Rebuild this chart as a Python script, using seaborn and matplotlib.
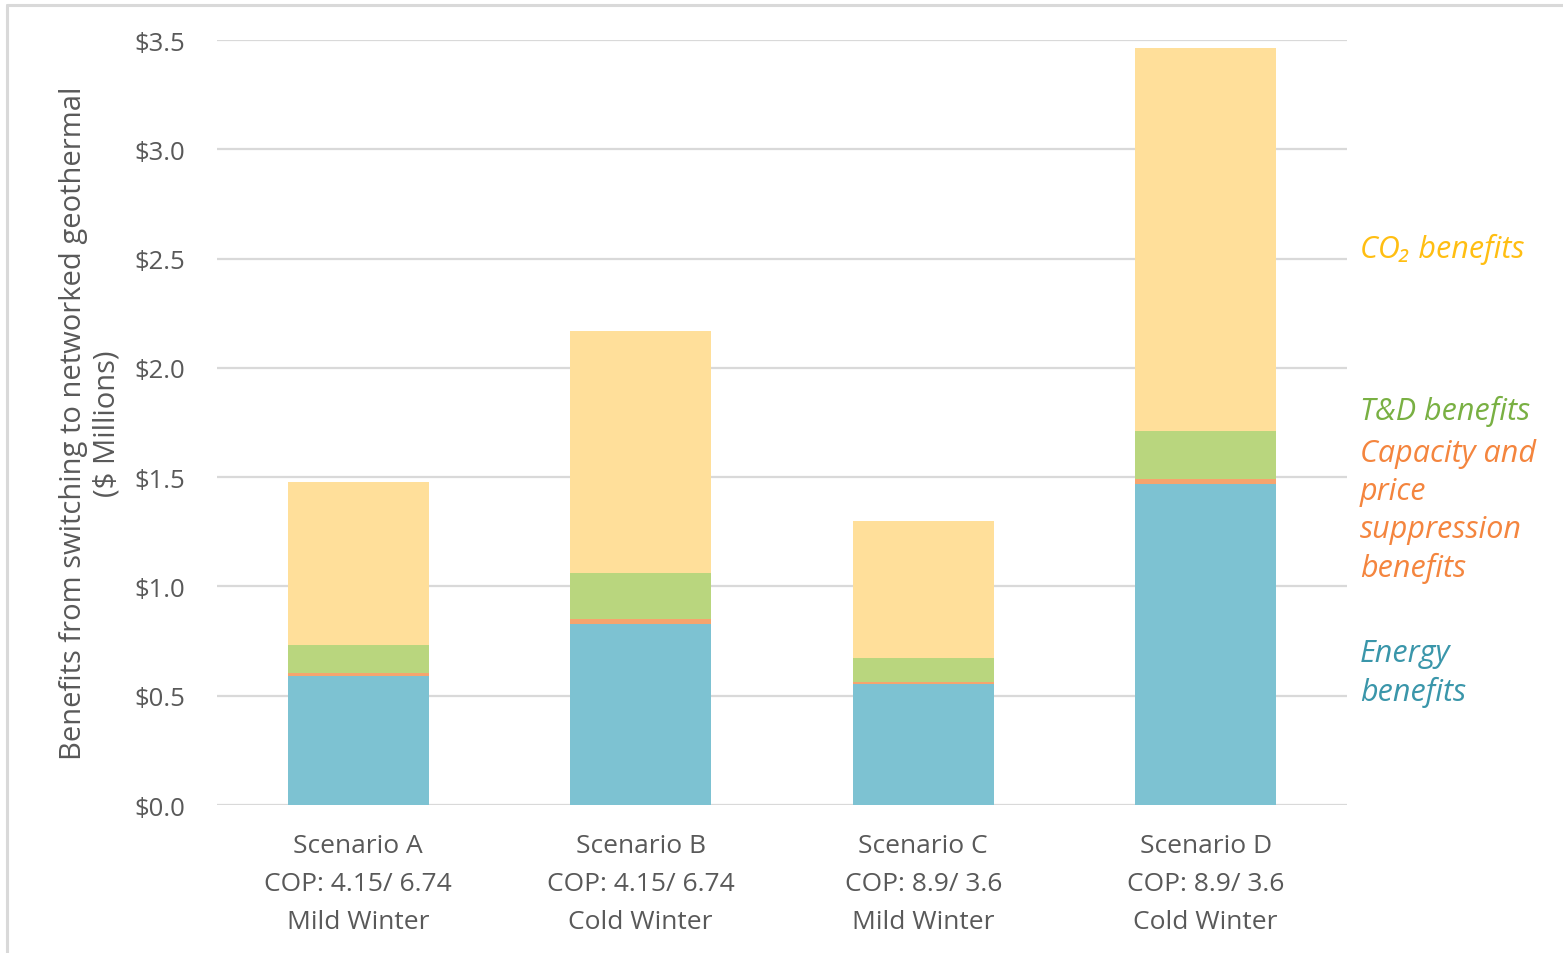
import matplotlib
matplotlib.use("Agg")
import matplotlib.pyplot as plt
from matplotlib.lines import Line2D
import seaborn as sns
import pandas as pd
import numpy as np

# Scenario labels and benefit components ($ millions)
scenarios = ["Scenario A", "Scenario B", "Scenario C", "Scenario D"]
cop_labels = ["COP: 4.15/ 6.74", "COP: 4.15/ 6.74", "COP: 8.9/ 3.6", "COP: 8.9/ 3.6"]
winter_labels = ["Mild Winter", "Cold Winter", "Mild Winter", "Cold Winter"]

energy = [0.59, 0.83, 0.555, 1.47]
capacity = [0.015, 0.02, 0.006, 0.022]
tnd = [0.125, 0.21, 0.11, 0.22]
co2 = [0.75, 1.11, 0.63, 1.75]

components = ["Energy", "Capacity", "T&D", "CO2"]
bar_colors = {"Energy": "#7DC2D2", "Capacity": "#F6A46E", "T&D": "#B9D67E", "CO2": "#FFDF9A"}
text_colors = {"Energy": "#3A96AA", "Capacity": "#F4853E", "T&D": "#79B043", "CO2": "#FFBE12"}

# cumulative tops so each layer can be drawn back-to-front
values = np.array([energy, capacity, tnd, co2])
cumulative = np.cumsum(values, axis=0)
df = pd.DataFrame(
    [{"scenario": s, "component": c, "top": cumulative[i, j]}
     for i, c in enumerate(components) for j, s in enumerate(scenarios)]
)

sns.set_theme(style="white")
plt.rcParams["font.family"] = ["Open Sans", "DejaVu Sans"]
grey = "#595959"

fig = plt.figure(figsize=(15.63, 9.54), dpi=100)
ax = fig.add_axes([0.1388, 0.1551, 0.8618 - 0.1388, 0.957 - 0.1551])

for comp in reversed(components):
    sub = df[df["component"] == comp]
    sns.barplot(data=sub, x="scenario", y="top", order=scenarios, color=bar_colors[comp],
                width=0.5, ax=ax, saturation=1, linewidth=0, zorder=3)

ax.set_xlim(-0.5, 3.5)
ax.set_ylim(0, 3.5)
ax.set_yticks(np.arange(0, 3.51, 0.5))
ax.set_yticklabels([f"${v:.1f}" for v in np.arange(0, 3.51, 0.5)], fontsize=18.5, color=grey)
ax.set_xticks(range(len(scenarios)))
ax.set_xticklabels([f"{s}\n{c}\n{w}" for s, c, w in zip(scenarios, cop_labels, winter_labels)],
                   fontsize=19, color=grey, linespacing=1.68)
ax.tick_params(axis="y", length=0, pad=23)
ax.tick_params(axis="x", length=0, pad=20)
ax.yaxis.grid(True, color="#D9D9D9", linewidth=1.6, zorder=0)
ax.set_axisbelow(True)
for sp in ax.spines.values():
    sp.set_visible(False)
ax.set_xlabel("")
ax.set_ylabel("Benefits from switching to networked geothermal\n($ Millions)",
              fontsize=21, color=grey, linespacing=1.2, labelpad=9)

# component labels on the right
label_x = 3.546
ax.text(label_x, 2.548, "CO₂ benefits", color=text_colors["CO2"], fontsize=22,
        style="italic", va="center", ha="left", clip_on=False,
        family=["Open Sans", "DejaVu Sans"])
ax.text(label_x, 1.807, "T&D benefits", color=text_colors["T&D"], fontsize=22,
        style="italic", va="center", ha="left", clip_on=False)
ax.text(label_x, 1.347, "Capacity and\nprice\nsuppression\nbenefits", color=text_colors["Capacity"],
        fontsize=22, style="italic", va="center", ha="left", linespacing=1.33, clip_on=False)
ax.text(label_x, 0.606, "Energy\nbenefits", color=text_colors["Energy"], fontsize=22,
        style="italic", va="center", ha="left", linespacing=1.33, clip_on=False)

# thin frame along the top and left edges
fig.add_artist(Line2D([7.5 / 1563, 1.0], [1 - 5.5 / 954, 1 - 5.5 / 954],
                      transform=fig.transFigure, color="#D9D9D9", linewidth=2.2))
fig.add_artist(Line2D([7.5 / 1563, 7.5 / 1563], [0.0, 1 - 5.5 / 954],
                      transform=fig.transFigure, color="#D9D9D9", linewidth=2.2))

fig.savefig("out.png", dpi=100, facecolor="white")
